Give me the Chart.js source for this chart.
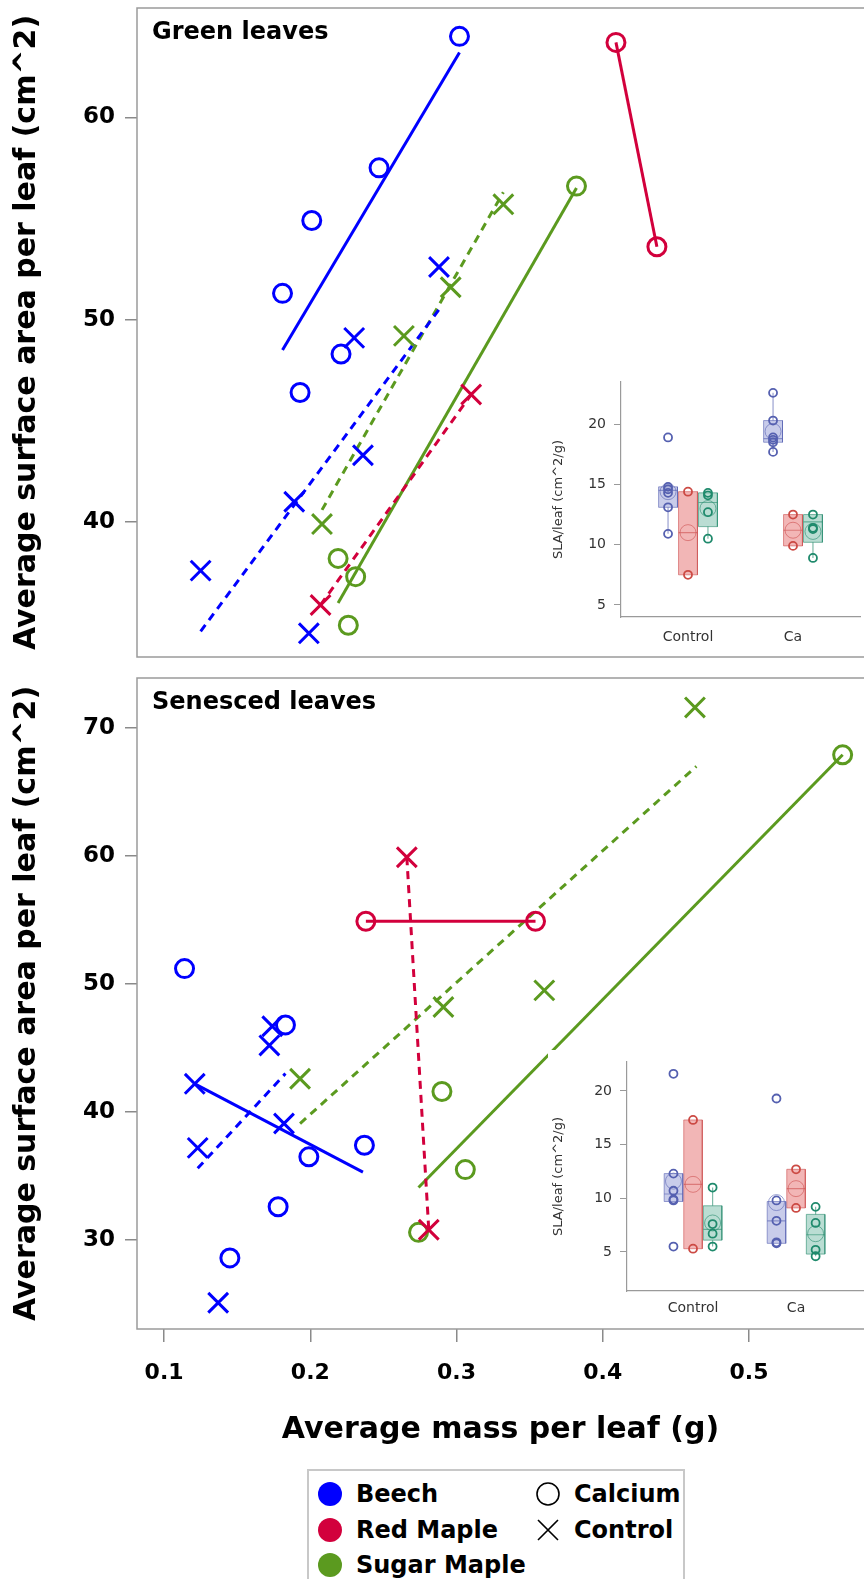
<!DOCTYPE html>
<html>
<head>
<meta charset="utf-8">
<script src="https://cdn.jsdelivr.net/npm/chart.js@4.4.1/dist/chart.umd.min.js"></script>
<style>
  body { margin: 0; background: #fff; width: 864px; height: 1579px; position: relative; overflow: hidden; font-family: 'DejaVu Sans', sans-serif; }
  .panel, .inset { position: absolute; }
  .inset { background: #fff; }
  .legend { position: absolute; left: 307px; top: 1469px; width: 378px; height: 130px; border: 2px solid #c8c8c8; box-sizing: border-box; }
  .item { position: absolute; height: 34px; display: flex; align-items: center; font-weight: bold; font-size: 24px; color: #000; white-space: nowrap; }
  .dot { width: 24px; height: 24px; border-radius: 50%; margin-right: 14px; }
  .item svg { margin-right: 13px; }
</style>
</head>
<body>
<div class="panel" style="left:0;top:0"><canvas id="greenChart" width="864" height="662"></canvas></div>
<div class="panel" style="left:0;top:665px"><canvas id="senescedChart" width="864" height="785"></canvas></div>
<div class="inset" style="left:548px;top:372px"><canvas id="greenInset" width="316" height="282"></canvas></div>
<div class="inset" style="left:548px;top:1050px"><canvas id="senescedInset" width="316" height="274"></canvas></div>
<div class="legend" id="legend"></div>

<script>
const $ = document;

// Labels
const species = ['Beech', 'Red Maple', 'Sugar Maple'];
const treatments = ['Calcium', 'Control'];
const insetCats = ['Control', 'Ca'];
const areaTitle = 'Average surface area per leaf (cm^2)';
const massTitle = 'Average mass per leaf (g)';
const slaTitle = 'SLA/leaf (cm^2/g)';

// Tick values
const massTicks = [0.1, 0.2, 0.3, 0.4, 0.5];
const greenAreaTicks = [40, 50, 60];
const senescedAreaTicks = [30, 40, 50, 60, 70];
const slaTicks = [5, 10, 15, 20];

// Green leaves: [mass (g), area (cm^2)]
const gBeechCa = [[0.302, 64.0], [0.247, 57.5], [0.201, 54.9], [0.181, 51.3], [0.221, 48.3], [0.193, 46.4]];
const gBeechCt = [[0.125, 37.6], [0.189, 41.0], [0.230, 49.1], [0.236, 43.3], [0.288, 52.6], [0.199, 34.5]];
const gRedCa = [[0.409, 63.7], [0.437, 53.6]];
const gRedCt = [[0.207, 35.9], [0.310, 46.3]];
const gSugarCa = [[0.382, 56.6], [0.219, 38.2], [0.231, 37.3], [0.226, 34.9]];
const gSugarCt = [[0.332, 55.7], [0.296, 51.6], [0.264, 49.2], [0.208, 39.9]];
// fitted line ends
const gBeechCaFit = [[0.181, 48.5], [0.302, 63.2]];
const gBeechCtFit = [[0.125, 34.6], [0.288, 50.5]];
const gRedCaFit = [[0.409, 63.7], [0.437, 53.6]];
const gRedCtFit = [[0.207, 35.9], [0.310, 46.3]];
const gSugarCaFit = [[0.219, 36.0], [0.382, 56.5]];
const gSugarCtFit = [[0.208, 40.6], [0.332, 56.3]];

// Senesced leaves: [mass (g), area (cm^2)]
const sBeechCa = [[0.114, 51.2], [0.183, 46.8], [0.178, 32.6], [0.145, 28.6], [0.199, 36.5], [0.237, 37.4]];
const sBeechCt = [[0.121, 42.2], [0.123, 37.2], [0.174, 46.7], [0.172, 45.2], [0.182, 39.1], [0.137, 25.1]];
const sRedCa = [[0.238, 54.9], [0.354, 54.9]];
const sRedCt = [[0.266, 59.9], [0.281, 30.8]];
const sSugarCa = [[0.564, 67.9], [0.290, 41.6], [0.306, 35.5], [0.274, 30.6]];
const sSugarCt = [[0.463, 71.6], [0.291, 48.2], [0.360, 49.5], [0.193, 42.6]];
const sBeechCaFit = [[0.121, 42.2], [0.236, 35.3]];
const sBeechCtFit = [[0.123, 35.6], [0.183, 43.0]];
const sRedCaFit = [[0.238, 54.9], [0.354, 54.9]];
const sRedCtFit = [[0.266, 59.9], [0.281, 30.8]];
const sSugarCaFit = [[0.274, 34.1], [0.564, 67.9]];
const sSugarCtFit = [[0.193, 39.1], [0.464, 67.0]];

// Inset SLA points, [Control, Ca]
const gSlaBeech = [[18.9, 14.8, 14.6, 14.3, 13.1, 10.9], [22.6, 20.3, 18.9, 18.7, 18.5, 17.7]];
const gSlaRed = [[14.4, 7.5], [12.5, 9.9]];
const gSlaSugar = [[14.3, 14.1, 12.7, 10.5], [12.5, 11.4, 11.3, 8.9]];
const sSlaBeech = [[21.6, 12.3, 10.7, 9.9, 9.8, 5.5], [19.3, 9.8, 7.9, 5.9, 5.8]];
const sSlaRed = [[17.3, 5.3], [12.7, 9.1]];
const sSlaSugar = [[11.0, 7.6, 6.7, 5.5], [9.2, 7.7, 5.2, 4.6]];
// box stats: [low whisker, Q1, median, Q3, high whisker, mean]
const gBoxBeech = [[10.9, 13.1, 14.5, 14.8, 14.8, 14.4], [17.7, 18.5, 18.8, 20.3, 22.6, 19.4]];
const gBoxRed = [[7.5, 7.5, 11.0, 14.4, 14.4, 11.0], [9.9, 9.9, 11.2, 12.5, 12.5, 11.2]];
const gBoxSugar = [[10.5, 11.5, 13.5, 14.3, 14.3, 13.0], [8.9, 10.2, 11.9, 12.5, 12.5, 11.1]];
const sBoxBeech = [[9.7, 9.7, 10.4, 12.3, 12.3, 11.6], [5.8, 5.8, 7.9, 9.7, 9.7, 9.6]];
const sBoxRed = [[5.3, 5.3, 11.3, 17.3, 17.3, 11.3], [9.1, 9.1, 10.9, 12.7, 12.7, 10.9]];
const sBoxSugar = [[5.5, 6.1, 7.1, 9.3, 11.0, 7.7], [4.6, 4.8, 6.6, 8.5, 9.2, 6.7]];

// Styles
const speciesColors = ['#0000ff', '#d2003c', '#5b9a1f'];
const insetPoint = ['#5560b0', '#cc4a44', '#1f8a6c'];
const insetFill = ['rgba(110,120,200,0.38)', 'rgba(230,110,110,0.5)', 'rgba(90,175,150,0.42)'];
const insetEdge = ['rgba(90,100,180,0.6)', 'rgba(205,80,80,0.6)', 'rgba(40,140,110,0.6)'];
const groupOffset = [-0.19, 0, 0.19];
const boxHalf = 0.09;
const font = "'DejaVu Sans', sans-serif";

const toXY = (pairs) => pairs.map(([x, y]) => ({ x, y }));

// frame + panel label
const framePlugin = {
  id: 'frame',
  afterDraw(chart, args, opts) {
    if (!opts.label) return;
    const { ctx, chartArea: a } = chart;
    ctx.save();
    ctx.strokeStyle = '#9a9a9a';
    ctx.lineWidth = 1.5;
    ctx.strokeRect(a.left, a.top, a.right - a.left + 2, a.bottom - a.top);
    ctx.fillStyle = '#000';
    ctx.font = "bold 24px " + font;
    ctx.textBaseline = 'middle';
    ctx.fillText(opts.label, a.left + 15, a.top + 25);
    ctx.restore();
  }
};

const panelDatasets = (groups, fits) => {
  const sets = [];
  groups.forEach((pair, s) => {
    pair.forEach((pts, t) => {
      sets.push({
        type: 'line', data: toXY(fits[s][t]), borderColor: speciesColors[s], borderWidth: 3,
        borderDash: t === 1 ? [8, 6] : [], pointRadius: 0, fill: false, order: 2
      });
      sets.push({
        type: 'scatter', data: toXY(pts), pointStyle: t === 0 ? 'circle' : 'crossRot',
        pointRadius: t === 0 ? 9 : 14, borderColor: speciesColors[s],
        backgroundColor: 'rgba(0,0,0,0)', borderWidth: 3, order: 1
      });
    });
  });
  return sets;
};

const keepTicks = (list) => (scale) => { scale.ticks = list.map((v) => ({ value: v })); };
const noEdgePad = (scale) => {
  scale.paddingTop = 0; scale.paddingBottom = 0; scale.paddingLeft = 0; scale.paddingRight = 0;
};

const panelChart = (canvas, groups, fits, yMin, yMax, yTicks, label, showX, padTop, padBottom) => {
  new Chart(canvas, {
    type: 'scatter',
    data: { datasets: panelDatasets(groups, fits) },
    plugins: [framePlugin],
    options: {
      responsive: false, animation: false, events: [],
      layout: { autoPadding: false, padding: { top: padTop, right: 0, bottom: padBottom, left: 0 } },
      plugins: { legend: { display: false }, tooltip: { enabled: false }, frame: { label } },
      scales: {
        x: {
          type: 'linear', min: 0.0815, max: 0.5786, display: showX,
          afterBuildTicks: keepTicks(massTicks),
          afterFit: (s) => { s.height = showX ? 121 : 0; noEdgePad(s); },
          border: { display: false },
          grid: { drawOnChartArea: false, tickLength: 13, color: '#8a8a8a', lineWidth: 1.5 },
          ticks: { padding: 18, color: '#000', font: { family: font, size: 22, weight: 'bold' }, callback: (v) => v.toFixed(1) },
          title: { display: true, text: massTitle, color: '#000', font: { family: font, size: 30, weight: 'bold' }, padding: { top: 0, bottom: 2 } }
        },
        y: {
          min: yMin, max: yMax,
          afterBuildTicks: keepTicks(yTicks),
          afterFit: (s) => { s.width = 137; noEdgePad(s); },
          border: { display: false },
          grid: { drawOnChartArea: false, tickLength: 12, color: '#8a8a8a', lineWidth: 1.5 },
          ticks: { padding: 10, color: '#000', font: { family: font, size: 23, weight: 'bold' } },
          title: { display: true, text: areaTitle, color: '#000', font: { family: font, size: 30, weight: 'bold' }, padding: { top: 9, bottom: 0 } }
        }
      }
    }
  });
};

const insetChart = (canvas, pts, boxes, yMin, yMax, xMin, xMax, yWidth, xHeight, padTop, padRight, labelPad) => {
  const sets = [];
  boxes.forEach((byCat, s) => {
    const segs = [];
    const meds = [];
    byCat.forEach(([lo, q1, med, q3, hi], c) => {
      const cx = c + 1 + groupOffset[s];
      sets.push({
        type: 'line', fill: 'shape', tension: 0, pointRadius: 0, order: 3,
        data: [{ x: cx - boxHalf, y: q1 }, { x: cx - boxHalf, y: q3 }, { x: cx + boxHalf, y: q3 },
          { x: cx + boxHalf, y: q1 }, { x: cx - boxHalf, y: q1 }],
        backgroundColor: insetFill[s], borderColor: insetEdge[s], borderWidth: 1
      });
      if (lo < q1) segs.push({ x: cx, y: lo }, { x: cx, y: q1 }, { x: cx, y: null });
      if (hi > q3) segs.push({ x: cx, y: q3 }, { x: cx, y: hi }, { x: cx, y: null });
      meds.push({ x: cx - boxHalf, y: med }, { x: cx + boxHalf, y: med }, { x: cx, y: null });
    });
    sets.push({ type: 'line', data: segs, borderColor: insetEdge[s], borderWidth: 1.2, pointRadius: 0, spanGaps: false, order: 2 });
    sets.push({ type: 'line', data: meds, borderColor: insetEdge[s], borderWidth: 1.2, pointRadius: 0, spanGaps: false, order: 2 });
    sets.push({
      type: 'scatter', data: byCat.map((b, c) => ({ x: c + 1 + groupOffset[s], y: b[5] })),
      pointRadius: 8, borderWidth: 1, borderColor: insetEdge[s], backgroundColor: 'rgba(0,0,0,0)', order: 1
    });
    sets.push({
      type: 'scatter', data: pts[s].flatMap((vals, c) => vals.map((v) => ({ x: c + 1 + groupOffset[s], y: v }))),
      pointRadius: 4, borderWidth: 1.8, borderColor: insetPoint[s], backgroundColor: 'rgba(0,0,0,0)', order: 0
    });
  });

  new Chart(canvas, {
    type: 'scatter',
    data: { datasets: sets },
    options: {
      responsive: false, animation: false, events: [],
      layout: { autoPadding: false, padding: { top: padTop, right: padRight, bottom: 0, left: 0 } },
      plugins: { legend: { display: false }, tooltip: { enabled: false } },
      scales: {
        x: {
          type: 'linear', min: xMin, max: xMax,
          afterBuildTicks: keepTicks([1, 2]),
          afterFit: (s) => { s.height = xHeight; noEdgePad(s); },
          border: { display: true, color: '#9a9a9a', width: 1.2 },
          grid: { drawOnChartArea: false, drawTicks: false },
          ticks: { padding: labelPad, color: '#333', font: { family: font, size: 14 }, callback: (v) => insetCats[v - 1] }
        },
        y: {
          min: yMin, max: yMax,
          afterBuildTicks: keepTicks(slaTicks),
          afterFit: (s) => { s.width = yWidth; noEdgePad(s); },
          border: { display: true, color: '#9a9a9a', width: 1.2 },
          grid: { drawOnChartArea: false, tickLength: 7, color: '#9a9a9a' },
          ticks: { padding: 8, color: '#333', font: { family: font, size: 14 } },
          title: { display: true, text: slaTitle, color: '#333', font: { family: font, size: 13 }, padding: { top: 3, bottom: 0 } }
        }
      }
    }
  });
};

const buildLegend = () => {
  const legend = $.querySelector('#legend');
  species.forEach((name, i) => {
    const item = $.createElement('div');
    item.className = 'item';
    item.style.left = '9px';
    item.style.top = (6 + i * 35.5) + 'px';
    item.innerHTML = '<span class="dot" style="background:' + speciesColors[i] + '"></span>' + name;
    legend.appendChild(item);
  });
  const marks = [
    '<svg width="26" height="26"><circle cx="13" cy="13" r="11" fill="none" stroke="#000" stroke-width="1.6"/></svg>',
    '<svg width="26" height="26"><path d="M3 3L23 23M23 3L3 23" stroke="#000" stroke-width="1.6"/></svg>'
  ];
  treatments.forEach((name, i) => {
    const item = $.createElement('div');
    item.className = 'item';
    item.style.left = '226px';
    item.style.top = (6 + i * 35.5) + 'px';
    item.innerHTML = marks[i] + name;
    legend.appendChild(item);
  });
};

panelChart($.querySelector('#greenChart'),
  [[gBeechCa, gBeechCt], [gRedCa, gRedCt], [gSugarCa, gSugarCt]],
  [[gBeechCaFit, gBeechCtFit], [gRedCaFit, gRedCtFit], [gSugarCaFit, gSugarCtFit]],
  33.33, 65.4, greenAreaTicks, 'Green leaves', false, 8, 5);

panelChart($.querySelector('#senescedChart'),
  [[sBeechCa, sBeechCt], [sRedCa, sRedCt], [sSugarCa, sSugarCt]],
  [[sBeechCaFit, sBeechCtFit], [sRedCaFit, sRedCtFit], [sSugarCaFit, sSugarCtFit]],
  23.05, 73.9, senescedAreaTicks, 'Senesced leaves', true, 13, 0);

insetChart($.querySelector('#greenInset'), [gSlaBeech, gSlaRed, gSlaSugar], [gBoxBeech, gBoxRed, gBoxSugar],
  4.0, 23.5, 0.362, 2.638, 73, 37, 10, 4, 12);

insetChart($.querySelector('#senescedInset'), [sSlaBeech, sSlaRed, sSlaSugar], [sBoxBeech, sBoxRed, sBoxSugar],
  1.36, 22.7, 0.359, 2.65, 79, 33, 12, 1, 9);

buildLegend();
</script>
</body>
</html>
